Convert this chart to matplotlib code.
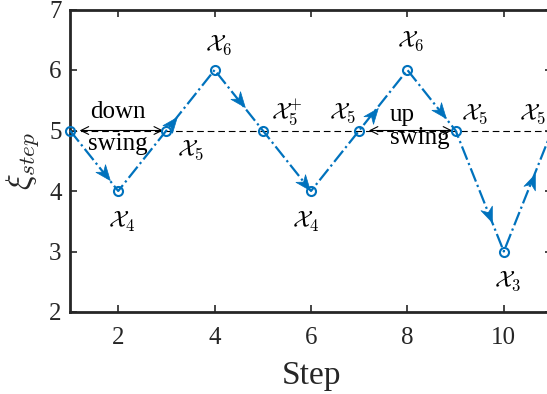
import numpy as np
import matplotlib
matplotlib.use("Agg")
import matplotlib.pyplot as plt
from matplotlib.path import Path
from matplotlib.markers import MarkerStyle
from matplotlib.transforms import Affine2D

plt.rcParams['font.family'] = ['Liberation Serif', 'DejaVu Serif']
plt.rcParams['mathtext.fontset'] = 'cm'

# ---- data ----
steps = [1, 2, 3, 4, 5, 6, 7, 8, 9, 10, 11]
xi = [5, 4, 5, 6, 5, 4, 5, 6, 5, 3, 5]
state_labels = [r'$\mathcal{X}_4$', r'$\mathcal{X}_5$', r'$\mathcal{X}_6$', r'$\mathcal{X}_5^{+}$',
                r'$\mathcal{X}_4$', r'$\mathcal{X}_5$', r'$\mathcal{X}_6$', r'$\mathcal{X}_5$',
                r'$\mathcal{X}_3$', r'$\mathcal{X}_5$']
label_x = [2.08, 3.5, 4.08, 5.5, 5.9, 6.65, 8.06, 9.4, 10.08, 10.6]
label_y = [3.49, 4.67, 6.40, 5.30, 3.49, 5.29, 6.48, 5.26, 2.50, 5.26]
# direction arrows: (segment start index, fraction along the segment)
arrow_seg = [0, 2, 3, 4, 6, 7, 8, 9]
arrow_frac = [0.72, 0.12, 0.52, 0.88, 0.28, 0.70, 0.70, 0.58]
xticks = [2, 4, 6, 8, 10]
yticks = [2, 3, 4, 5, 6, 7]

blue = '#0072BD'
W, H = 547, 394
fig = plt.figure(figsize=(W / 100, H / 100), dpi=100)
ax = fig.add_axes([70 / W, 1 - 312 / H, (552 - 70) / W, (312 - 9.5) / H])
ax.set_xlim(1, 11)
ax.set_ylim(2, 7)

ax.axhline(5, color='k', lw=0.8, ls=(0, (6, 3.5)), zorder=1)
ax.plot(steps, xi, color=blue, lw=1.6, ls='-.', marker='o', ms=6.5, mfc='none',
        mec=blue, mew=1.5, zorder=3, clip_on=False)

# arrowhead markers along the path
head = Path([(1.0, 0.0), (-1.0, 0.8), (-0.4, 0.0), (-1.0, -0.8), (1.0, 0.0)],
            [Path.MOVETO, Path.LINETO, Path.LINETO, Path.LINETO, Path.CLOSEPOLY])
for s, f in zip(arrow_seg, arrow_frac):
    x0, y0 = steps[s], xi[s]
    x1, y1 = steps[s + 1], xi[s + 1]
    px = x0 + f * (x1 - x0)
    py = y0 + f * (y1 - y0)
    p0 = ax.transData.transform((x0, y0))
    p1 = ax.transData.transform((x1, y1))
    ang = np.degrees(np.arctan2(p1[1] - p0[1], p1[0] - p0[0]))
    m = MarkerStyle(head, transform=Affine2D().rotate_deg(ang))
    ax.plot([px], [py], marker=m, ms=11, color=blue, mec=blue, mew=0.5, ls='none', zorder=4)

# swing arrows
arr = dict(arrowstyle='<->', lw=0.8, color='k', shrinkA=0, shrinkB=0, mutation_scale=14)
ax.annotate('', xy=(1.2, 5), xytext=(2.93, 5), arrowprops=arr, zorder=2)
ax.annotate('', xy=(7.2, 5), xytext=(8.93, 5), arrowprops=arr, zorder=2)
ax.text(2.0, 5.3, 'down', ha='center', va='center', fontsize=18)
ax.text(2.0, 4.78, 'swing', ha='center', va='center', fontsize=18)
ax.text(7.9, 5.25, 'up', ha='center', va='center', fontsize=18)
ax.text(8.25, 4.88, 'swing', ha='center', va='center', fontsize=18)

for lab, lx, ly in zip(state_labels, label_x, label_y):
    ax.text(lx, ly, lab, ha='center', va='center', fontsize=17)

ax.set_xticks(xticks)
ax.set_yticks(yticks)
ax.tick_params(direction='in', length=5, width=1.2, labelsize=18, top=True, right=True,
               color='#262626', labelcolor='#262626')
ax.tick_params(axis='x', pad=11)
ax.tick_params(axis='y', pad=6)
for sp in ax.spines.values():
    sp.set_linewidth(2)
    sp.set_color('#262626')
ax.set_xlabel('Step', fontsize=24, color='#262626', labelpad=8)
ax.set_ylabel(r'$\xi_{step}$', fontsize=24, color='#262626', labelpad=6)

fig.savefig('out.png', dpi=100)
